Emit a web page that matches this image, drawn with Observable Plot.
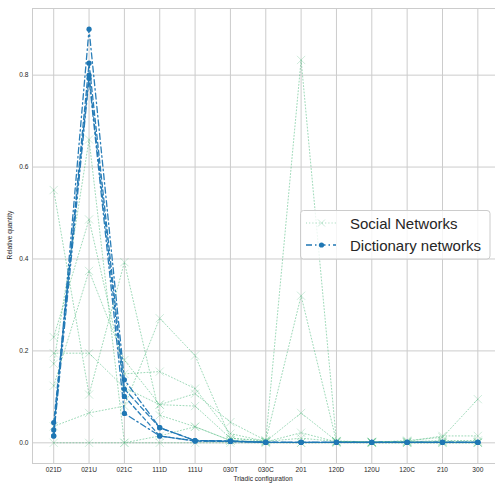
<!DOCTYPE html>
<html>
<head>
<meta charset="utf-8">
<script src="https://cdn.jsdelivr.net/npm/d3@7"></script>
<script src="https://cdn.jsdelivr.net/npm/@observablehq/plot@0.6"></script>
<style>
  html, body { margin: 0; padding: 0; background: #ffffff; }
  #chart { width: 495px; height: 483px; }
</style>
</head>
<body>
<div id="chart"></div>
<script>
const categories = ["021D","021U","021C","111D","111U","030T","030C","201","120D","120U","120C","210","300"];

// Social networks (relative quantity per triadic configuration)
const socialA = [0.55, 0.105, 0.393, 0.060, 0.035, 0.005, 0.002, 0.022, 0.002, 0.001, 0.001, 0.002, 0.001];
const socialB = [0.23, 0.486, 0.150, 0.155, 0.118, 0.020, 0.003, 0.065, 0.004, 0.002, 0.003, 0.015, 0.015];
const socialC = [0.195, 0.195, 0.120, 0.083, 0.080, 0.010, 0.005, 0.320, 0.003, 0.002, 0.002, 0.005, 0.005];
const socialD = [0.172, 0.660, 0.000, 0.000, 0.000, 0.000, 0.000, 0.000, 0.000, 0.000, 0.000, 0.000, 0.000];
const socialE = [0.124, 0.374, 0.180, 0.083, 0.107, 0.045, 0.005, 0.833, 0.003, 0.002, 0.003, 0.003, 0.002];
const socialF = [0.036, 0.065, 0.080, 0.271, 0.190, 0.010, 0.003, 0.010, 0.003, 0.001, 0.005, 0.012, 0.095];
const socialG = [0.000, 0.000, 0.000, 0.015, 0.035, 0.005, 0.001, 0.000, 0.001, 0.000, 0.000, 0.000, 0.000];

// Dictionary networks
const dictA = [0.015, 0.900, 0.137, 0.033, 0.005, 0.004, 0.001, 0.001, 0.001, 0.001, 0.001, 0.001, 0.001];
const dictB = [0.028, 0.826, 0.117, 0.033, 0.005, 0.004, 0.001, 0.001, 0.001, 0.001, 0.001, 0.001, 0.001];
const dictC = [0.044, 0.800, 0.101, 0.015, 0.004, 0.003, 0.001, 0.001, 0.001, 0.001, 0.001, 0.001, 0.001];
const dictD = [0.015, 0.793, 0.064, 0.015, 0.004, 0.003, 0.001, 0.001, 0.001, 0.001, 0.001, 0.001, 0.001];

const yTicks = [0, 0.2, 0.4, 0.6, 0.8];

const socialSeries = [socialA, socialB, socialC, socialD, socialE, socialF, socialG];
const dictSeries = [dictA, dictB, dictC, dictD];
const dictDashes = ["6,3,1.5,3", "5,3", "4,3", "6,3,1.5,3"];

const socialRows = socialSeries.flatMap((s, k) => s.map((v, i) => ({s: k, i, v})));

const green = "#3cb371";
const blue = "#1f77b4";
const font = "'Liberation Sans', Arial, sans-serif";

const marks = [
  Plot.ruleX(d3.range(categories.length), {x: d => d, stroke: "#cccccc", strokeWidth: 1}),
  Plot.ruleY(yTicks, {y: d => d, stroke: "#cccccc", strokeWidth: 1}),
  Plot.frame({stroke: "#cccccc", strokeWidth: 1}),
  Plot.line(socialRows, {x: "i", y: "v", z: "s", stroke: green, strokeOpacity: 0.5, strokeWidth: 1, strokeDasharray: "1,2.2"}),
  Plot.dot(socialRows, {x: "i", y: "v", symbol: "times", r: 3.8, stroke: green, strokeOpacity: 0.25, strokeWidth: 1})
];
dictSeries.forEach((s, k) => {
  const rows = s.map((v, i) => ({i, v}));
  marks.push(Plot.line(rows, {x: "i", y: "v", stroke: blue, strokeOpacity: 0.95, strokeWidth: 1.3, strokeDasharray: dictDashes[k]}));
  marks.push(Plot.dot(rows, {x: "i", y: "v", r: 2.6, fill: blue, stroke: "none"}));
});

const svg = Plot.plot({
  width: 495,
  height: 483,
  marginLeft: 32,
  marginRight: 0,
  marginTop: 8,
  marginBottom: 20,
  style: {fontFamily: font, fontSize: "6.6px", color: "#262626", background: "#ffffff"},
  x: {type: "linear", domain: [-0.6, 12.5], ticks: d3.range(categories.length), tickFormat: i => categories[i], tickSize: 0, tickPadding: 4, label: null},
  y: {domain: [-0.045, 0.945], ticks: yTicks, tickFormat: d3.format(".1f"), tickSize: 0, tickPadding: 4, label: null},
  marks
});

document.getElementById("chart").appendChild(svg);

// Axis titles
const s = d3.select(svg);
s.append("text").attr("x", 263).attr("y", 480.5).attr("text-anchor", "middle")
  .attr("font-family", font).attr("font-size", "6.6px").attr("fill", "#262626").text("Triadic configuration");
s.append("text").attr("transform", "translate(12,235) rotate(-90)").attr("text-anchor", "middle")
  .attr("font-family", font).attr("font-size", "6.6px").attr("fill", "#262626").text("Relative quantity");

// Legend
const lg = s.append("g").attr("text-anchor", "start");
lg.append("rect").attr("x", 300.5).attr("y", 210.5).attr("width", 189.5).attr("height", 48.5).attr("rx", 3)
  .attr("fill", "#ffffff").attr("fill-opacity", 0.8).attr("stroke", "#cccccc").attr("stroke-width", 1);
lg.append("line").attr("x1", 306).attr("x2", 336).attr("y1", 223).attr("y2", 223)
  .attr("stroke", green).attr("stroke-opacity", 0.5).attr("stroke-width", 1).attr("stroke-dasharray", "1,2.2");
lg.append("path").attr("d", "M318,219.5L325,226.5M318,226.5L325,219.5")
  .attr("stroke", green).attr("stroke-opacity", 0.25).attr("fill", "none");
lg.append("line").attr("x1", 306).attr("x2", 336).attr("y1", 245).attr("y2", 245)
  .attr("stroke", blue).attr("stroke-width", 1.3).attr("stroke-dasharray", "6,3,1.5,3");
lg.append("circle").attr("cx", 321.5).attr("cy", 245).attr("r", 2.6).attr("fill", blue);
lg.append("text").attr("x", 350).attr("y", 228.5).attr("text-anchor", "start").attr("font-family", font).attr("font-size", "15px").attr("fill", "#262626").text("Social Networks");
lg.append("text").attr("x", 350).attr("y", 250.5).attr("text-anchor", "start").attr("font-family", font).attr("font-size", "15px").attr("fill", "#262626").text("Dictionary networks");
</script>
</body>
</html>
